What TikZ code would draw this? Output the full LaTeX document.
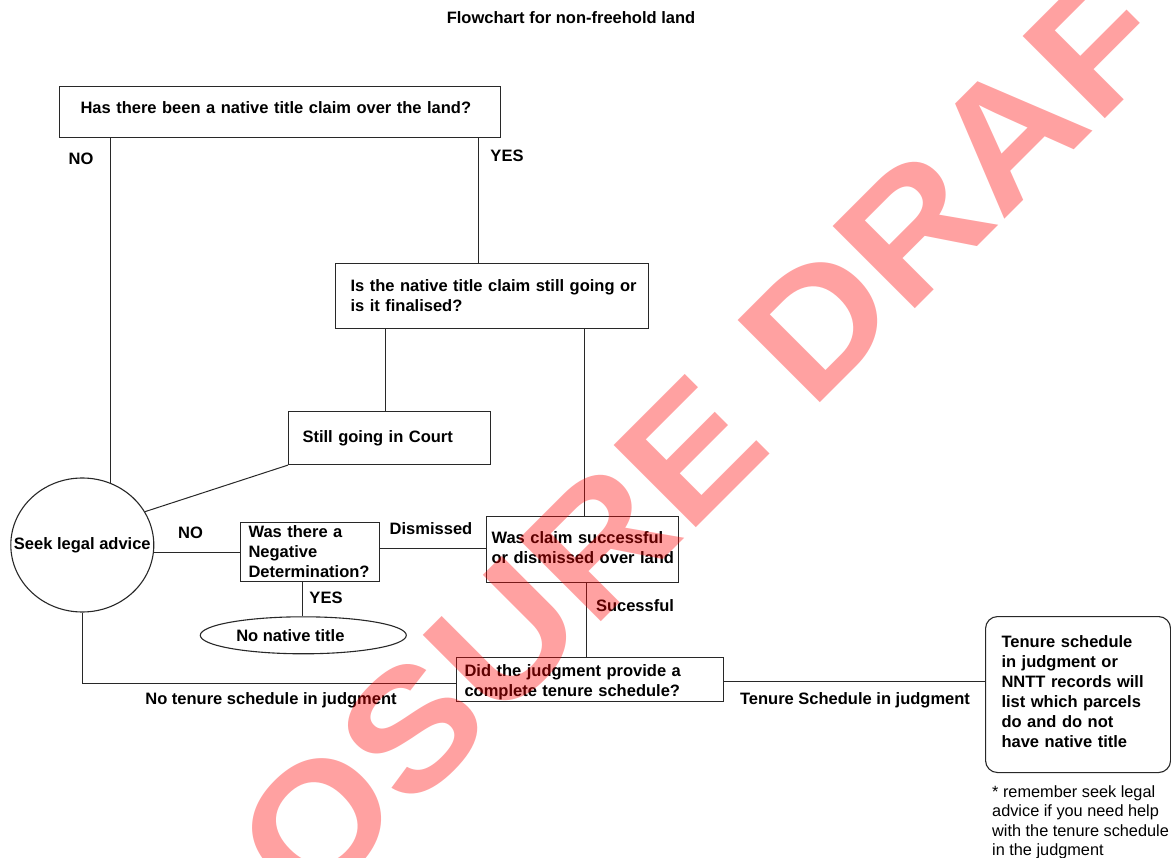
\documentclass[tikz,border=0pt]{standalone}
\usepackage{fontspec}
\setmainfont{Liberation Sans}
\usetikzlibrary{calc,shapes.geometric}
\definecolor{ln}{RGB}{40,40,40}
\newcommand\dpt[1]{\rule[-#1]{0pt}{#1}}
\tikzset{
  basefont/.style={font=\fontsize{16.5}{20}\selectfont\bfseries},
  qbox/.style={draw=ln, line width=1.1pt, rectangle, anchor=north west, align=left, inner ysep=0pt, basefont},
  oval/.style={draw=ln, line width=1.1pt, ellipse, inner sep=0pt, basefont},
  conn/.style={draw=ln, line width=1pt},
  lbl/.style={anchor=base, inner sep=0pt, basefont},
}
\begin{document}
\begin{tikzpicture}[x=1pt,y=-1pt]
\useasboundingbox (0,0) rectangle (1171,858);
\fill[white] (0,0) rectangle (1171,858);

\node[lbl] (title) at (571,23.5) {Flowchart for non-freehold land};

\node[qbox, inner xsep=21pt, text width=399pt, minimum height=51pt] (b1) at (59,86)
  {\mbox{Has there been a native title claim over the land?}\dpt{10pt}};
\node[qbox, inner xsep=15pt, text width=283pt, minimum height=65pt] (b2) at (335,263)
  {\mbox{Is the native title claim still going or}\\\mbox{is it finalised?}};
\node[qbox, inner xsep=14pt, text width=174pt, minimum height=53pt] (b3) at (288,411)
  {\mbox{Still going in Court}};
\node[qbox, inner xsep=8pt, text width=123pt, minimum height=59pt] (b4) at (240,522)
  {\mbox{Was there a}\\\mbox{Negative}\\\mbox{Determination?}};
\node[qbox, inner xsep=5.5pt, text width=181.5pt, minimum height=66pt] (b5) at (485.5,516)
  {\mbox{Was claim successful}\\\mbox{or dismissed over land}\dpt{4pt}};
\node[qbox, inner xsep=8pt, text width=251pt, minimum height=44pt] (b6) at (456,657)
  {\rule{0pt}{18pt}\mbox{Did the judgment provide a}\\\mbox{complete tenure schedule?}};
\node[qbox, rounded corners=12pt, inner xsep=16pt, text width=153pt, minimum height=156pt] (b7) at (985,616)
  {\mbox{Tenure schedule}\\\mbox{in judgment or}\\\mbox{NNTT records will}\\\mbox{list which parcels}\\\mbox{do and do not}\\\mbox{have native title}\dpt{6pt}};

\node[oval, minimum width=143pt, minimum height=134pt] (seek) at (82.3,545)
  {\makebox[0pt]{Seek legal advice}};
\node[oval, minimum width=206pt, minimum height=37pt] (nn) at (303.3,635.3)
  {\makebox[0pt][l]{\hspace*{-67pt}No native title}};

\node[anchor=north west, inner sep=0pt, align=left, font=\fontsize{16.3}{19.5}\selectfont] (fn) at (992,785)
  {* remember seek legal\\advice if you need help\\with the tenure schedule\\in the judgment};

% connectors
\draw[conn] (b1.south -| seek.66.5) -- (seek.66.5);
\draw[conn] ($(b2.north west)+(143,0)$) coordinate (p1) -- (p1 |- b1.south);
\draw[conn] ($(b3.north west)+(97,0)$) coordinate (p2) -- (p2 |- b2.south);
\draw[conn] ($(b5.north west)+(98.5,0)$) coordinate (p3) -- (p3 |- b2.south);
\draw[conn] (b3.south west) -- (seek.28);
\draw[conn] (b4.west) -- (seek.east |- b4.west);
\draw[conn] ($(b4.east)+(0,-3.5)$) coordinate (p4) -- (p4 -| b5.west);
\draw[conn] ($(b4.south west)+(62,0)$) coordinate (p5) -- (p5 |- nn.north);
\draw[conn] ($(b5.south west)+(101,0)$) coordinate (p6) -- (p6 |- b6.north);
\draw[conn] (seek.south) |- ($(b6.west)+(0,4)$);
\draw[conn] ($(b6.east)+(0,2)$) coordinate (p7) -- (p7 -| b7.west);

% labels
\node[lbl] (l1) at (81,165) {NO};
\node[lbl] (l2) at (507,162) {YES};
\node[lbl] (l3) at (190.5,539) {NO};
\node[lbl] (l4) at (431,535) {Dismissed};
\node[lbl] (l5) at (326,603.5) {YES};
\node[lbl] (l6) at (635,612) {Sucessful};
\node[lbl] (l7) at (271,704) {No tenure schedule in judgment};
\node[lbl] (l8) at (855,704) {Tenure Schedule in judgment};

% watermark
\begin{scope}
\clip (0,0) rectangle (1171,858);
\node[rotate=45, anchor=base west, inner sep=0pt, text=red, text opacity=0.37,
      font=\fontsize{169}{169}\selectfont\bfseries] (wm) at (-86.9,1310.3)
  {\scalebox{1.1}[1]{DISCLOSURE DRAFT}};
\end{scope}
\end{tikzpicture}
\end{document}
